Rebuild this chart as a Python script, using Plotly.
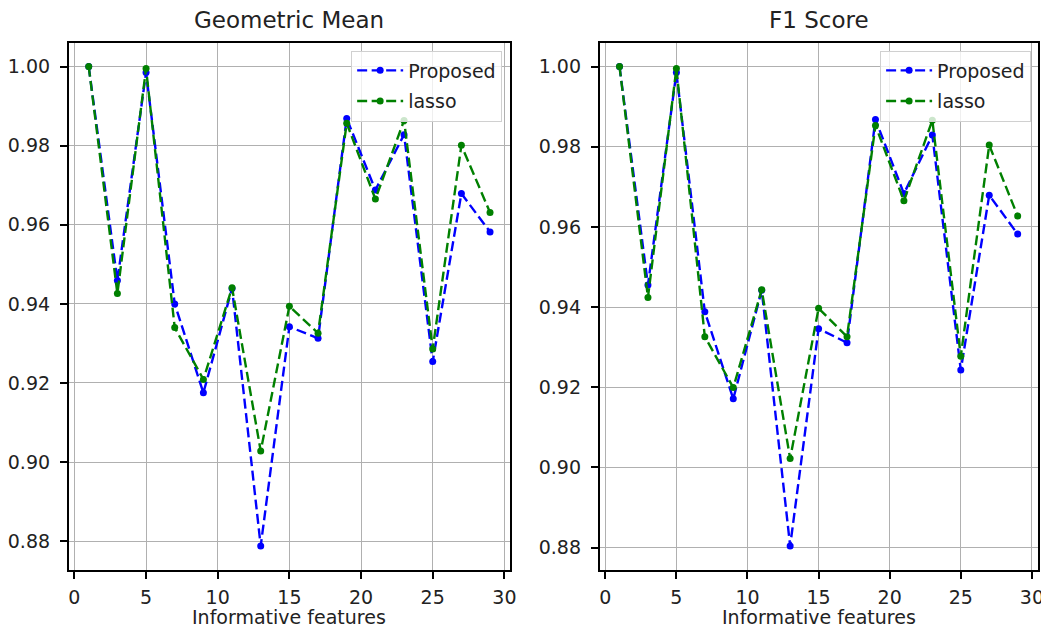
import plotly.graph_objects as go

# ---- data ----
features = [1, 3, 5, 7, 9, 11, 13, 15, 17, 19, 21, 23, 25, 27, 29]
gm_proposed = [1.000, 0.9459, 0.9985, 0.9400, 0.9175, 0.9439, 0.8788, 0.9342, 0.9313, 0.9869, 0.9688, 0.9828, 0.9254, 0.9679, 0.9582]
gm_lasso = [1.000, 0.9426, 0.9995, 0.9340, 0.9209, 0.9441, 0.9028, 0.9394, 0.9326, 0.9857, 0.9665, 0.9864, 0.9286, 0.9801, 0.9631]
f1_proposed = [1.000, 0.9455, 0.9985, 0.9388, 0.9171, 0.9442, 0.8804, 0.9346, 0.9311, 0.9868, 0.9683, 0.9829, 0.9243, 0.9679, 0.9582]
f1_lasso = [1.000, 0.9424, 0.9995, 0.9326, 0.9199, 0.9443, 0.9022, 0.9397, 0.9326, 0.9853, 0.9665, 0.9866, 0.9277, 0.9804, 0.9627]
titles = ["Geometric Mean", "F1 Score"]
x_label = "Informative features"
x_ticks = [0, 5, 10, 15, 20, 25, 30]
y_ticks = [0.88, 0.90, 0.92, 0.94, 0.96, 0.98, 1.00]

W, H = 1049, 631
OFF = 8  # page body margin offset
FONT = "DejaVu Sans"
TXT = "#222222"
BLUE = "#0000ff"
GREEN = "#008000"
DASH = "10px,4.5px"

def px_x(p):
    return (p - OFF) / W

def px_y(p):
    return 1 - (p - OFF) / H

fig = go.Figure()

def add_pair(prop, las, xa, ya, legend):
    fig.add_trace(go.Scatter(x=features, y=prop, mode="lines+markers", name="Proposed",
                             line=dict(color=BLUE, width=2.4, dash=DASH), legendgroup=legend + "a",
                             marker=dict(color=BLUE, size=7), xaxis=xa, yaxis=ya, legend=legend))
    fig.add_trace(go.Scatter(x=features, y=las, mode="lines+markers", name="lasso",
                             line=dict(color=GREEN, width=2.4, dash=DASH), legendgroup=legend + "b",
                             marker=dict(color=GREEN, size=7), xaxis=xa, yaxis=ya, legend=legend))

add_pair(gm_proposed, gm_lasso, "x", "y", "legend")
add_pair(f1_proposed, f1_lasso, "x2", "y2", "legend2")

top = px_y(42.5)
bot = px_y(570)
dom1 = [px_x(69), px_x(513)]
dom2 = [px_x(603), px_x(1043.5)]

axis_common = dict(showline=True, linecolor="black", linewidth=1.5, mirror=True,
                   ticks="outside", ticklen=7, tickwidth=1.5, tickcolor="black",
                   showgrid=True, gridcolor="#b0b0b0", gridwidth=1.3, zeroline=False,
                   tickfont=dict(family=FONT, size=19, color=TXT))

def xaxis(dom, anchor):
    return dict(axis_common, domain=dom, anchor=anchor, range=[-0.4, 30.4],
                tickvals=x_ticks, ticklabelstandoff=2)

def yaxis(rng, anchor):
    return dict(axis_common, domain=[bot, top], anchor=anchor, range=rng,
                tickvals=y_ticks, tickformat=".2f", ticklabelstandoff=6)

legend_common = dict(bgcolor="rgba(255,255,255,0.8)", bordercolor="#d0d0d0", borderwidth=1,
                     font=dict(family=FONT, size=19, color=TXT), itemwidth=46,
                     xanchor="right", yanchor="top", y=px_y(50.5), tracegroupgap=3)

def text_ann(t, x, y, size):
    return dict(text=t, x=x, y=y, xref="paper", yref="paper", showarrow=False,
                xanchor="center", yanchor="middle", font=dict(family=FONT, size=size, color=TXT))

fig.update_layout(
    width=W, height=H,
    margin=dict(l=0, r=0, t=0, b=0),
    paper_bgcolor="white", plot_bgcolor="white",
    xaxis=xaxis(dom1, "y"), yaxis=yaxis([0.8727, 1.0061], "x"),
    xaxis2=xaxis(dom2, "y2"), yaxis2=yaxis([0.8744, 1.0060], "x2"),
    legend=dict(legend_common, x=px_x(505)),
    legend2=dict(legend_common, x=px_x(1037)),
    showlegend=True,
    annotations=[
        text_ann(titles[0], (dom1[0] + dom1[1]) / 2, px_y(19.5), 23),
        text_ann(titles[1], (dom2[0] + dom2[1]) / 2, px_y(19.5), 23),
        text_ann(x_label, (dom1[0] + dom1[1]) / 2, px_y(617), 19),
        text_ann(x_label, (dom2[0] + dom2[1]) / 2, px_y(617), 19),
    ],
)

fig.write_html("out.html")
